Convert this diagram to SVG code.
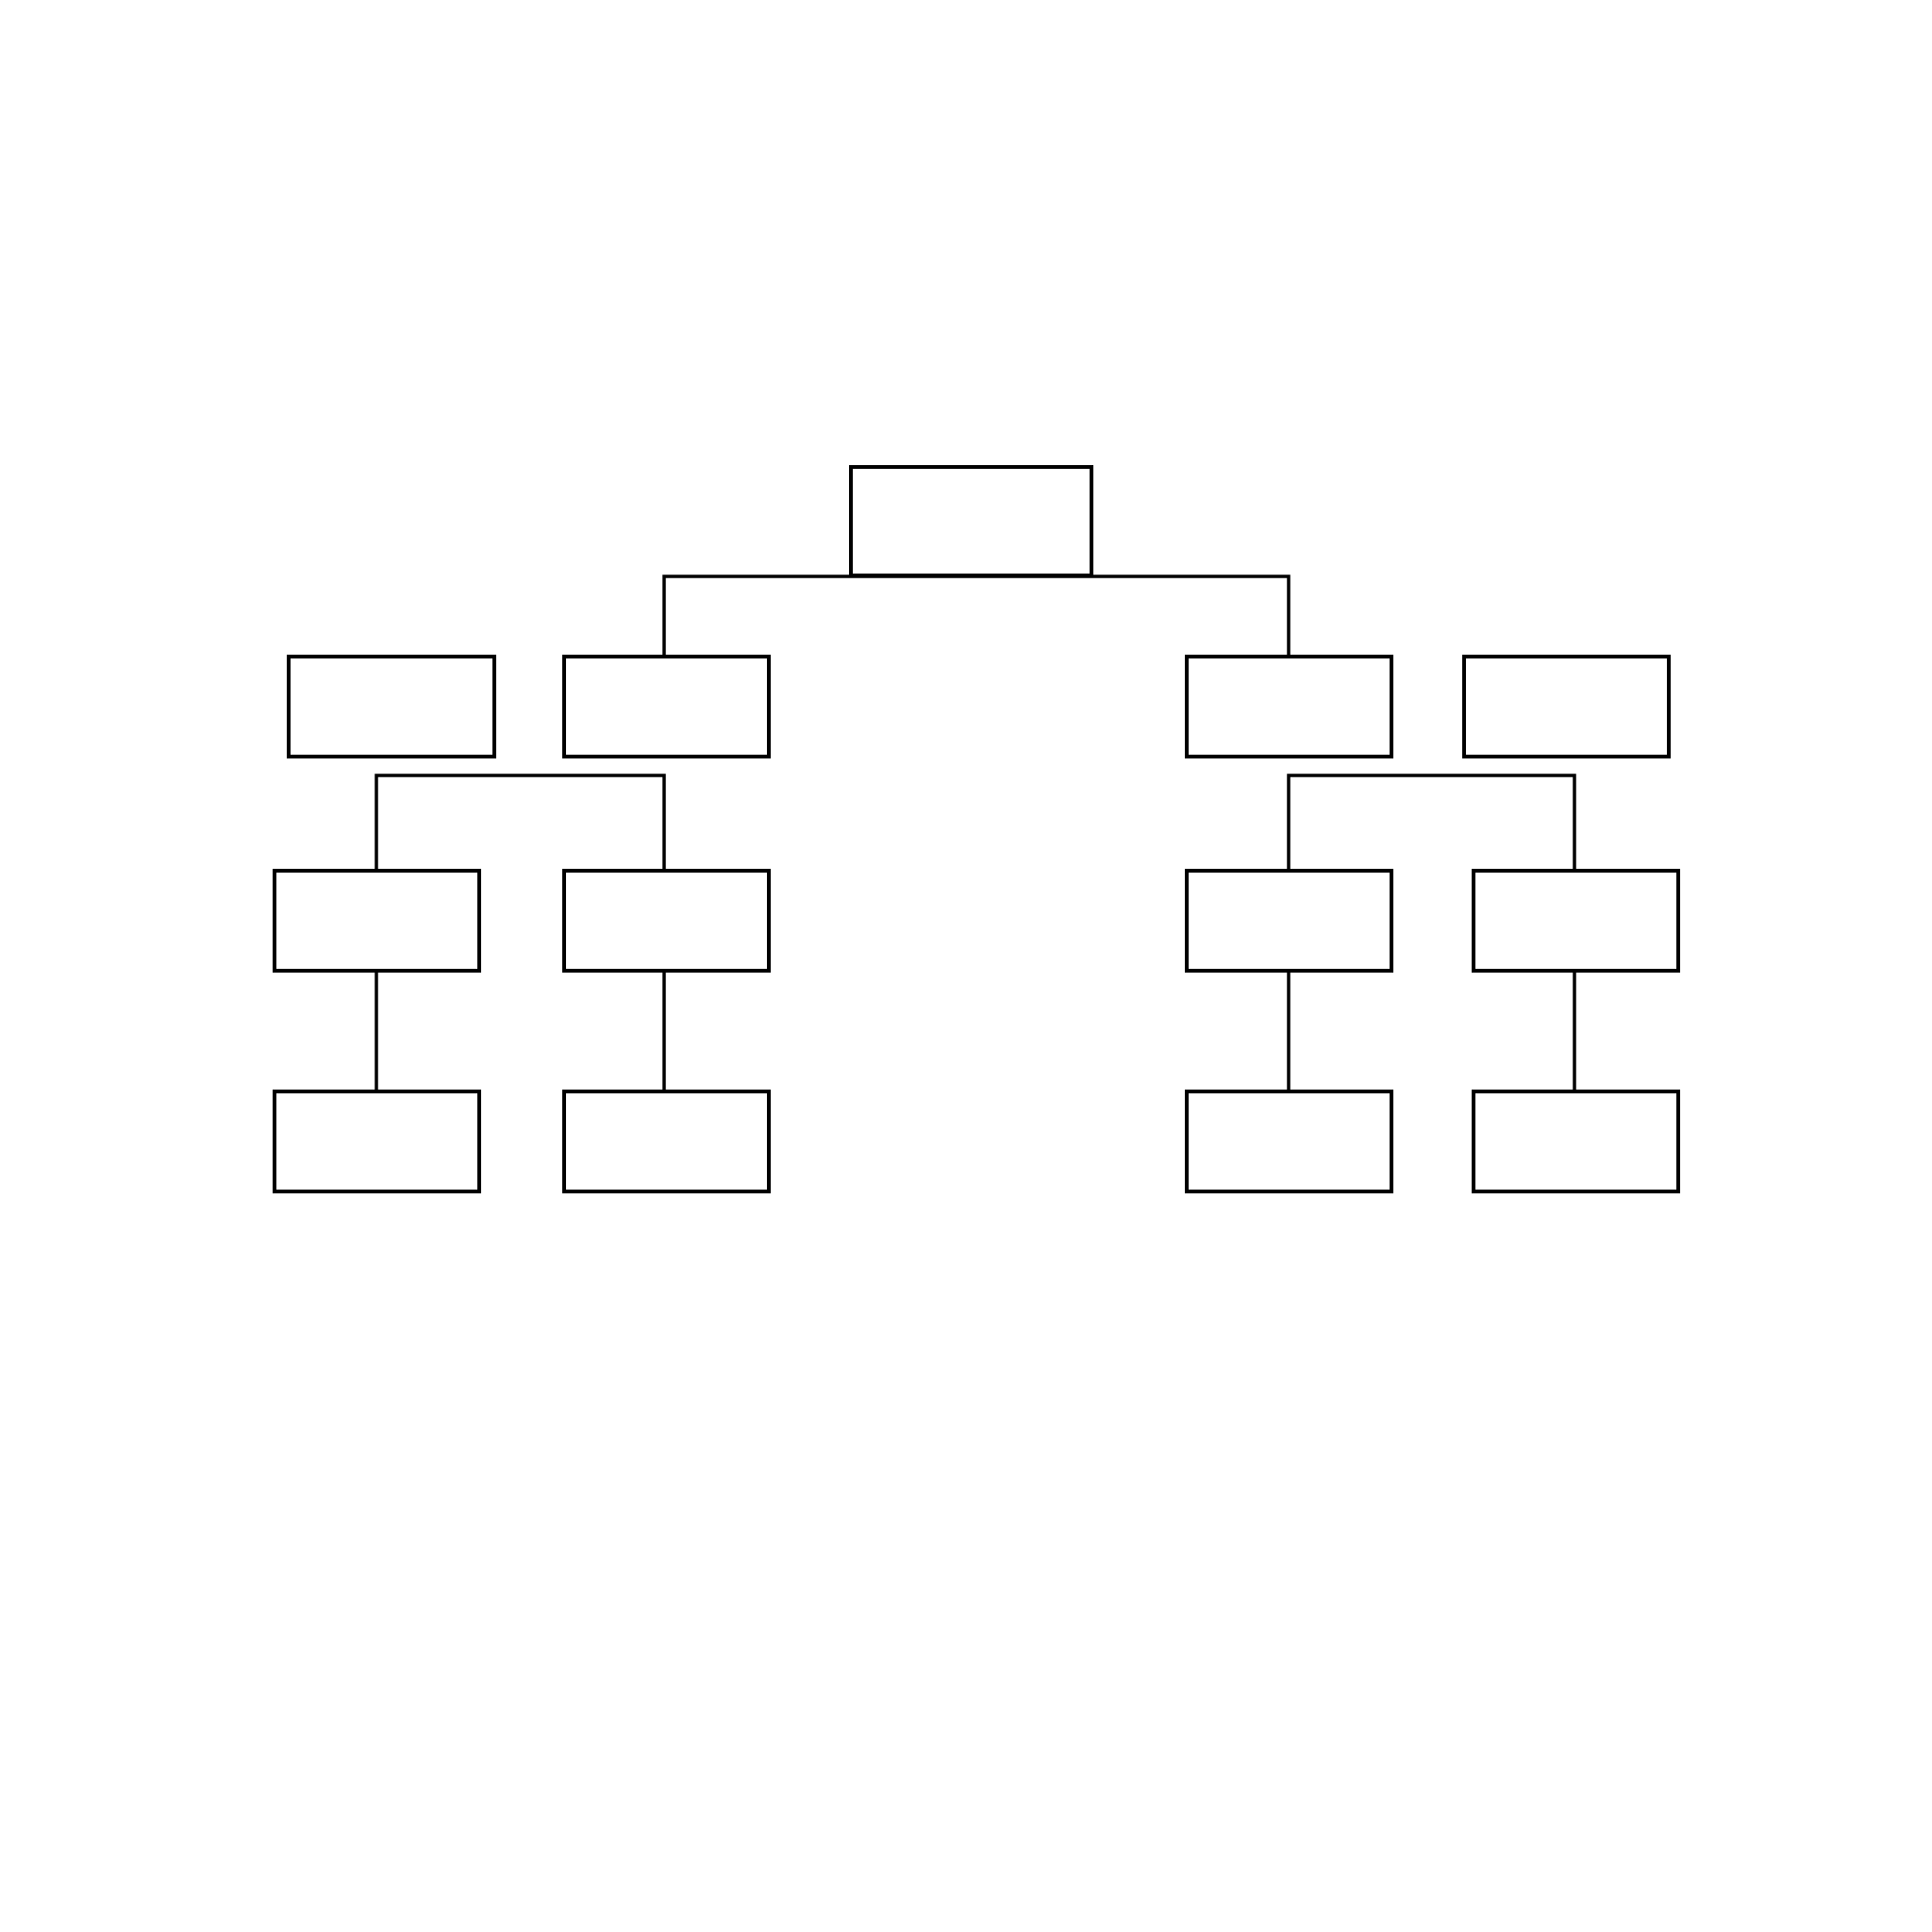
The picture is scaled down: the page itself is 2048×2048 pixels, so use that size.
<svg xmlns="http://www.w3.org/2000/svg" width="2048" height="2048" viewBox="0 0 2048 2048">
<style>
.n{fill:#fff;stroke:#000;stroke-width:4}
.c{fill:none;stroke:#000;stroke-width:3.5}
</style>
<rect width="2048" height="2048" fill="#fff"/>
<g id="connectors">
<polyline class="c" points="704,696 704,611 1366,611 1366,696"/>
<polyline class="c" points="399,923 399,822 704,822 704,923"/>
<polyline class="c" points="1366,923 1366,822 1669,822 1669,923"/>
<line class="c" x1="399" y1="1029" x2="399" y2="1157"/>
<line class="c" x1="704" y1="1029" x2="704" y2="1157"/>
<line class="c" x1="1366" y1="1029" x2="1366" y2="1157"/>
<line class="c" x1="1669" y1="1029" x2="1669" y2="1157"/>
</g>
<g id="root"><rect class="n" x="902" y="495" width="255" height="115"/></g>
<g id="r1c1"><rect class="n" x="306" y="696" width="218" height="106"/></g>
<g id="r1c2"><rect class="n" x="598" y="696" width="217" height="106"/></g>
<g id="r1c3"><rect class="n" x="1258" y="696" width="217" height="106"/></g>
<g id="r1c4"><rect class="n" x="1552" y="696" width="217" height="106"/></g>
<g id="r2c1"><rect class="n" x="291" y="923" width="217" height="106"/></g>
<g id="r2c2"><rect class="n" x="598" y="923" width="217" height="106"/></g>
<g id="r2c3"><rect class="n" x="1258" y="923" width="217" height="106"/></g>
<g id="r2c4"><rect class="n" x="1562" y="923" width="217" height="106"/></g>
<g id="r3c1"><rect class="n" x="291" y="1157" width="217" height="106"/></g>
<g id="r3c2"><rect class="n" x="598" y="1157" width="217" height="106"/></g>
<g id="r3c3"><rect class="n" x="1258" y="1157" width="217" height="106"/></g>
<g id="r3c4"><rect class="n" x="1562" y="1157" width="217" height="106"/></g>
</svg>
